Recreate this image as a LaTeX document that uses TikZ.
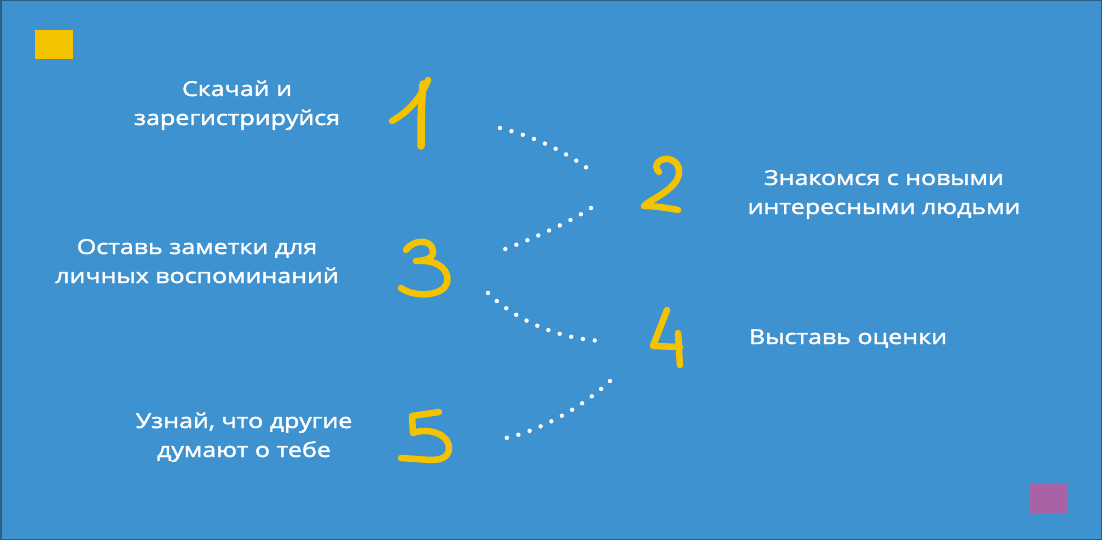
\documentclass[tikz,border=0pt]{standalone}
\usepackage{fontspec}
\setmainfont{Open Sans}[FakeBold=1.8, FakeStretch=1.22]
\usepackage{tikz}
\usetikzlibrary{positioning}
\definecolor{hintergrund}{HTML}{3D92CF}
\definecolor{rahmen}{HTML}{2E5E80}
\definecolor{gelb}{HTML}{F3C300}
\definecolor{lila}{HTML}{A862A6}
\begin{document}
\begin{tikzpicture}[x=1pt, y=-1pt,
		digit/.style={draw=gelb, line width=6.5pt, line cap=round, line join=round},
		dotline/.style={draw=white, line width=4.4pt, line cap=round, dash pattern=on 0pt off 11.9pt},
		schritt/.style={text=white, align=center, font=\fontsize{20.5}{29}\selectfont, inner sep=0pt, anchor=base}]
	%Hintergrund
	\fill[hintergrund] (0,0) rectangle (1102,540);
	\draw[rahmen, line width=1.5pt] (0.75,0.75) rectangle (1101.25,539.25);
	\useasboundingbox (0,0) rectangle (1102,540);
	% Ecken
	\fill[gelb] (35,30) rectangle (73,59);
	\fill[lila] (1029,484) rectangle (1067,513);
	% Ziffern
	\draw[digit] (392,121) .. controls (408,112) and (421,98) .. (428,80);
	\draw[digit, line width=7.5pt] (423,84) .. controls (421,105) and (421,125) .. (421,146);
	\draw[digit] (659,172) .. controls (652,165) and (660,158) .. (668,159) .. controls (678,160) and (684,172) .. (674,184) .. controls (664,195) and (650,200) .. (644,206) .. controls (655,206) and (668,208) .. (678,210);
	\draw[digit] (406,250) .. controls (412,240) and (432,238) .. (433,251) .. controls (434,258) and (425,261) .. (416,261) .. controls (440,259) and (450,272) .. (447,283) .. controls (443,296) and (415,298) .. (401,288);
	\draw[digit] (667,310) -- (653,346) -- (680,347);
	\draw[digit] (678,333) .. controls (679,345) and (679,355) .. (680,365);
	\draw[digit] (439,412) -- (412,416) -- (413,433) .. controls (430,427) and (450,435) .. (449,449) .. controls (448,458) and (440,460) .. (430,460) -- (401,458);
	% Enden der Punktlinien
	\coordinate (e1) at (500,128);
	\coordinate (e2a) at (591,171);
	\coordinate (e2b) at (591,208);
	\coordinate (e3a) at (500,251);
	\coordinate (e3b) at (488,293);
	\coordinate (e4a) at (602,341);
	\coordinate (e4b) at (610,381);
	\coordinate (e5) at (501,439);
	\draw[dotline] (e1) .. controls (540,138) and (570,155) .. (e2a);
	\draw[dotline] (e2b) .. controls (570,222) and (530,240) .. (e3a);
	\draw[dotline] (e3b) .. controls (510,315) and (550,338) .. (e4a);
	\draw[dotline] (e4b) .. controls (585,405) and (540,432) .. (e5);
	% Texte (Anker: Grundlinie der letzten Zeile)
	\node[schritt] (t1) at (237,125) {Скачай и\\зарегистрируйся};
	\node[schritt] (t3) at (197,283) {Оставь заметки для\\личных воспоминаний};
	\node[schritt] (t5) at (244,457) {Узнай, что другие\\думают о тебе};
	\node[schritt] (t2) at (884,214) {Знакомся с новыми\\интересными людьми};
	\node[schritt] (t4) at (848,344) {Выставь оценки};
\end{tikzpicture}
\end{document}
